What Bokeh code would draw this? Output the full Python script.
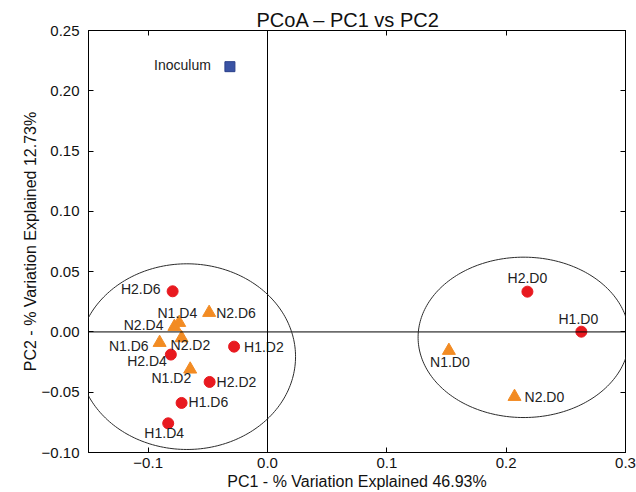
import numpy as np
from bokeh.plotting import figure
from bokeh.models import (ColumnDataSource, FixedTicker, LinearAxis, Span,
                          PolyAnnotation, Range1d)
from bokeh.embed import file_html
from bokeh.resources import INLINE
from bokeh.core.properties import value, field

# ---------------- data ----------------
title_text = "PCoA – PC1 vs PC2"
x_label = "PC1 - % Variation Explained 46.93%"
y_label = "PC2 - % Variation Explained 12.73%"

x_ticks = [-0.1, 0.0, 0.1, 0.2, 0.3]
x_tick_labels = ["−0.1", "0.0", "0.1", "0.2", "0.3"]
y_ticks = [-0.10, -0.05, 0.0, 0.05, 0.10, 0.15, 0.20, 0.25]
y_tick_labels = ["−0.10", "−0.05", "0.00", "0.05", "0.10", "0.15", "0.20", "0.25"]

# H samples (red circles)
h_names = ["H2.D6", "H2.D4", "H1.D2", "H2.D2", "H1.D6", "H1.D4", "H2.D0", "H1.D0"]
h_pc1 = [-0.0795, -0.081, -0.028, -0.0485, -0.072, -0.0832, 0.2178, 0.263]
h_pc2 = [0.0337, -0.0188, -0.0122, -0.0415, -0.0589, -0.0758, 0.0334, 0.0002]

# N samples (orange triangles)
n_names = ["N2.D6", "N1.D4", "N2.D4", "N2.D2", "N1.D6", "N1.D2", "N1.D0", "N2.D0"]
n_pc1 = [-0.0489, -0.074, -0.078, -0.072, -0.0904, -0.0648, 0.152, 0.207]
n_pc2 = [0.016, 0.0077, 0.0044, -0.005, -0.0089, -0.031, -0.0155, -0.0537]

# Inoculum (blue square)
i_names = ["Inoculum"]
i_pc1 = [-0.0315]
i_pc2 = [0.22]

# cluster ellipses: centre, full width, full height (data units)
ell_cx = [-0.0675, 0.2147]
ell_cy = [-0.0205, -0.0045]
ell_w = [0.182, 0.177]
ell_h = [0.154, 0.133]

# ---------------- label layout (screen px, y down) ----------------
h_align = ["right", "right", "left", "left", "left", "center", "center", "center"]
h_dx = [-12, -4, 10, 7, 7, -4, 0, -3]
h_dy = [-2, 6, 0, 0, -1, 10, -14, -13]
n_align = ["left", "right", "right", "left", "right", "right", "center", "left"]
n_dx = [7, 18, -11, -11, -11, 1, 1, 10]
n_dy = [0, -10, -2, 7, 3, 9, 11, 0]
i_align = ["right"]
i_dx = [-19]
i_dy = [-2]

FONT = "Liberation Sans"
RED = "#e8191f"
ORANGE = "#f28b23"
BLUE = "#3a53a4"

p = figure(width=636, height=492,
           x_range=Range1d(-0.15, 0.30), y_range=Range1d(-0.10, 0.25),
           output_backend="svg", toolbar_location=None,
           title=title_text,
           min_border_left=88, min_border_right=11,
           min_border_top=30, min_border_bottom=40)

p.title.align = "left"
p.title.offset = 168
p.title.text_font = FONT
p.title.text_font_size = "20px"
p.title.text_font_style = "normal"
p.title.text_color = "#111111"
p.title.standoff = 0

p.xgrid.visible = False
p.ygrid.visible = False
p.outline_line_color = "black"
p.outline_line_width = 1
p.background_fill_color = "white"

xo = {t: l for t, l in zip(x_ticks, x_tick_labels)}
yo = {t: l for t, l in zip(y_ticks, y_tick_labels)}

def style_axis(ax, ticks, overrides, show_labels=True):
    ax.ticker = FixedTicker(ticks=ticks)
    ax.major_label_overrides = overrides
    ax.major_tick_in = 5
    ax.major_tick_out = 0
    ax.minor_tick_line_color = None
    ax.axis_line_color = "black"
    ax.major_tick_line_color = "black"
    ax.major_label_text_font = FONT
    ax.major_label_text_color = "#111111"
    if show_labels:
        ax.major_label_text_font_size = "15px"
        ax.major_label_standoff = 5
    else:
        ax.major_label_text_font_size = "0px"
        ax.major_label_text_alpha = 0
        ax.major_label_standoff = 0

xa = p.xaxis[0]
ya = p.yaxis[0]
style_axis(xa, x_ticks, xo)
style_axis(ya, y_ticks, yo)
ya.major_label_standoff = 9
xa.axis_label = x_label
ya.axis_label = y_label
for ax in (xa, ya):
    ax.axis_label_text_font = FONT
    ax.axis_label_text_font_size = "16px"
    ax.axis_label_text_font_style = "normal"
    ax.axis_label_text_color = "#111111"
    ax.axis_label_standoff = 0
xa.axis_label_standoff = 2

top = LinearAxis()
style_axis(top, x_ticks, {}, show_labels=False)
p.add_layout(top, "above")
right = LinearAxis()
style_axis(right, y_ticks, {}, show_labels=False)
p.add_layout(right, "right")

# zero lines
p.add_layout(Span(location=0, dimension="height", line_color="black", line_width=1))
p.add_layout(Span(location=0, dimension="width", line_color="black", line_width=1))

# ellipses
t = np.linspace(0, 2 * np.pi, 240)
for cx, cy, w, h in zip(ell_cx, ell_cy, ell_w, ell_h):
    p.add_layout(PolyAnnotation(xs=list(cx + w / 2 * np.cos(t)),
                                ys=list(cy + h / 2 * np.sin(t)),
                                fill_color=None, fill_alpha=0,
                                line_color="#2b2b2b", line_alpha=1,
                                line_width=1))

# markers
hsrc = ColumnDataSource(dict(x=h_pc1, y=h_pc2, name=h_names, align=h_align, dx=h_dx, dy=h_dy))
nsrc = ColumnDataSource(dict(x=n_pc1, y=n_pc2, name=n_names, align=n_align, dx=n_dx, dy=n_dy))
isrc = ColumnDataSource(dict(x=i_pc1, y=i_pc2, name=i_names, align=i_align, dx=i_dx, dy=i_dy))

p.scatter("x", "y", source=hsrc, marker="circle", size=11,
          fill_color=RED, line_color=RED)
p.scatter("x", "y", source=nsrc, marker="triangle", size=13,
          fill_color=ORANGE, line_color=ORANGE)
p.scatter("x", "y", source=isrc, marker="square", size=10,
          fill_color=BLUE, line_color="#2a3f8a")

for src in (hsrc, nsrc, isrc):
    p.text(x="x", y="y", text="name", source=src,
           x_offset=field("dx"), y_offset=field("dy"),
           text_align=field("align"), text_baseline="middle",
           text_font=value(FONT), text_font_size="14px", text_color="#222222")

open("out.html", "w").write(file_html(p, INLINE))
